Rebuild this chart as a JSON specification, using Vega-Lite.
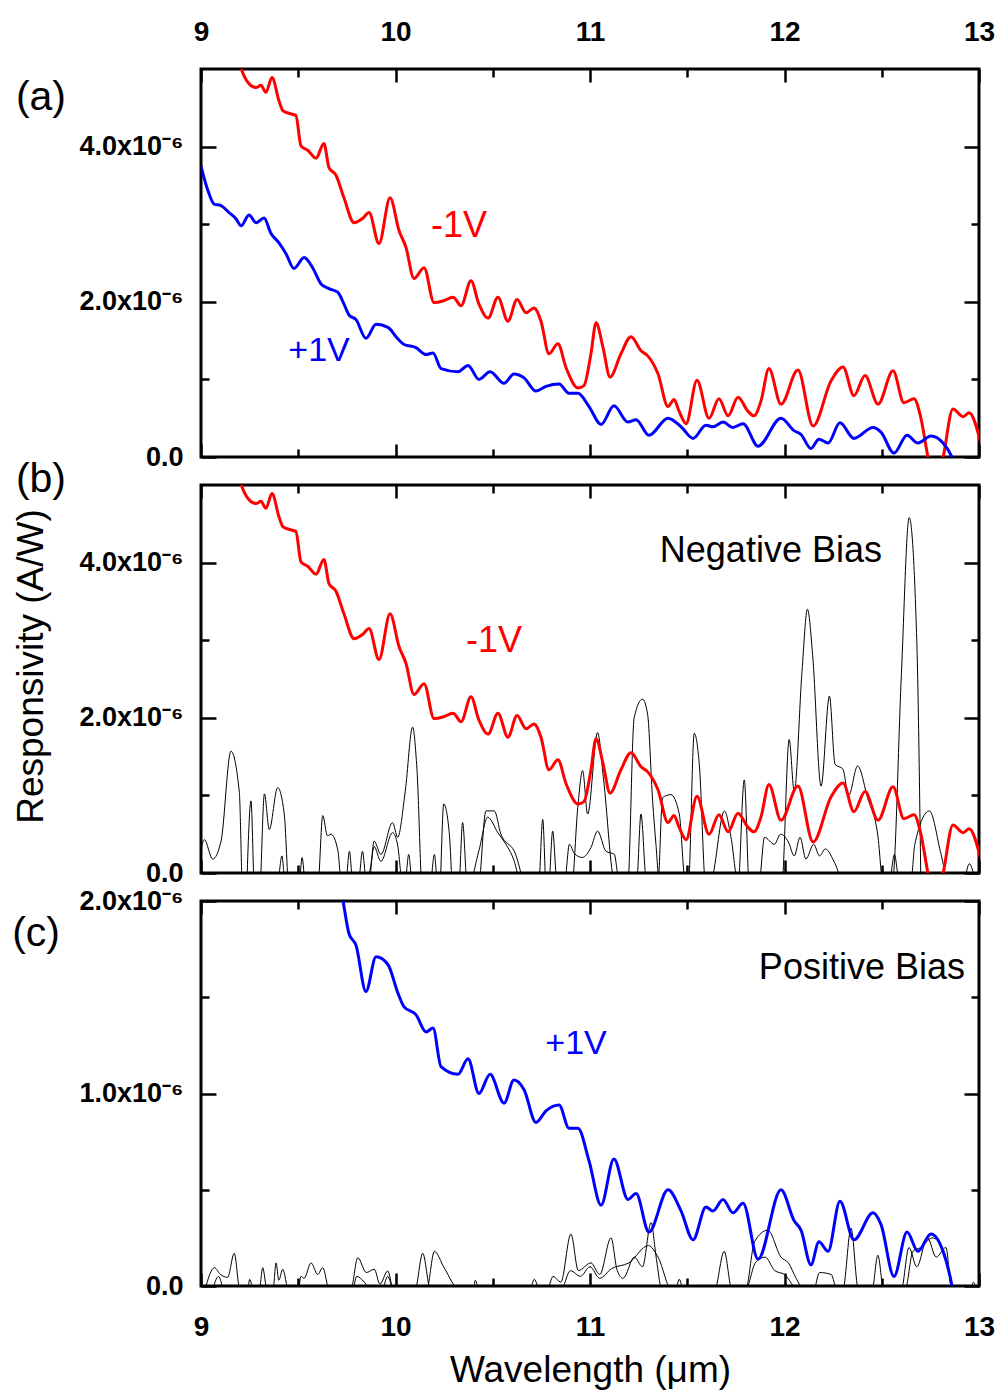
{
  "$schema": "https://vega.github.io/schema/vega-lite/v6.json",
  "background": "white",
  "padding": {"left": 10, "top": 11, "right": 5, "bottom": 5},
  "spacing": 28,
  "bounds": "flush",
  "datasets": {
    "red": [
      {"w":9.19,"r":5.15e-6},{"w":9.206,"r":5.01e-6},{"w":9.247,"r":4.81e-6},{"w":9.283,"r":4.76e-6},{"w":9.308,"r":4.79e-6},{"w":9.334,"r":4.70e-6},{"w":9.365,"r":4.89e-6},{"w":9.401,"r":4.59e-6},{"w":9.422,"r":4.46e-6},{"w":9.452,"r":4.43e-6},{"w":9.488,"r":4.40e-6},{"w":9.514,"r":4.01e-6},{"w":9.550,"r":3.95e-6},{"w":9.591,"r":3.85e-6},{"w":9.632,"r":4.04e-6},{"w":9.658,"r":3.73e-6},{"w":9.694,"r":3.63e-6},{"w":9.735,"r":3.34e-6},{"w":9.787,"r":3.02e-6},{"w":9.833,"r":3.08e-6},{"w":9.864,"r":3.15e-6},{"w":9.915,"r":2.75e-6},{"w":9.972,"r":3.34e-6},{"w":10.018,"r":2.92e-6},{"w":10.054,"r":2.70e-6},{"w":10.095,"r":2.30e-6},{"w":10.147,"r":2.44e-6},{"w":10.198,"r":1.99e-6},{"w":10.244,"r":2.01e-6},{"w":10.296,"r":2.06e-6},{"w":10.337,"r":1.95e-6},{"w":10.388,"r":2.27e-6},{"w":10.429,"r":1.97e-6},{"w":10.476,"r":1.79e-6},{"w":10.527,"r":2.06e-6},{"w":10.578,"r":1.75e-6},{"w":10.625,"r":2.03e-6},{"w":10.671,"r":1.86e-6},{"w":10.712,"r":1.92e-6},{"w":10.748,"r":1.75e-6},{"w":10.789,"r":1.33e-6},{"w":10.835,"r":1.46e-6},{"w":10.877,"r":1.15e-6},{"w":10.938,"r":0.89e-6},{"w":10.969,"r":0.92e-6},{"w":11.005,"r":1.33e-6},{"w":11.031,"r":1.73e-6},{"w":11.067,"r":1.41e-6},{"w":11.103,"r":1.03e-6},{"w":11.159,"r":1.33e-6},{"w":11.211,"r":1.55e-6},{"w":11.262,"r":1.37e-6},{"w":11.298,"r":1.30e-6},{"w":11.350,"r":1.07e-6},{"w":11.401,"r":0.65e-6},{"w":11.432,"r":0.74e-6},{"w":11.458,"r":0.59e-6},{"w":11.494,"r":0.43e-6},{"w":11.550,"r":0.99e-6},{"w":11.612,"r":0.50e-6},{"w":11.663,"r":0.75e-6},{"w":11.710,"r":0.53e-6},{"w":11.761,"r":0.77e-6},{"w":11.812,"r":0.59e-6},{"w":11.843,"r":0.53e-6},{"w":11.879,"r":0.72e-6},{"w":11.920,"r":1.14e-6},{"w":11.982,"r":0.68e-6},{"w":12.069,"r":1.12e-6},{"w":12.147,"r":0.40e-6},{"w":12.239,"r":0.98e-6},{"w":12.301,"r":1.16e-6},{"w":12.357,"r":0.79e-6},{"w":12.414,"r":1.05e-6},{"w":12.481,"r":0.68e-6},{"w":12.558,"r":1.11e-6},{"w":12.614,"r":0.70e-6},{"w":12.666,"r":0.75e-6},{"w":12.697,"r":0.55e-6},{"w":12.738,"r":-0.01e-6},{"w":12.77,"r":-0.4e-6},{"w":12.815,"r":-0.01e-6},{"w":12.866,"r":0.62e-6},{"w":12.918,"r":0.52e-6},{"w":12.949,"r":0.57e-6},{"w":13.01,"r":0.17e-6}
    ],
    "blue": [
      {"w":9.000,"r":3.75e-6},{"w":9.036,"r":3.43e-6},{"w":9.067,"r":3.26e-6},{"w":9.103,"r":3.24e-6},{"w":9.144,"r":3.15e-6},{"w":9.180,"r":3.07e-6},{"w":9.206,"r":2.98e-6},{"w":9.247,"r":3.12e-6},{"w":9.283,"r":3.02e-6},{"w":9.324,"r":3.08e-6},{"w":9.360,"r":2.88e-6},{"w":9.401,"r":2.76e-6},{"w":9.437,"r":2.62e-6},{"w":9.478,"r":2.43e-6},{"w":9.530,"r":2.57e-6},{"w":9.576,"r":2.43e-6},{"w":9.617,"r":2.23e-6},{"w":9.658,"r":2.17e-6},{"w":9.704,"r":2.12e-6},{"w":9.730,"r":2.00e-6},{"w":9.761,"r":1.83e-6},{"w":9.797,"r":1.77e-6},{"w":9.848,"r":1.53e-6},{"w":9.900,"r":1.71e-6},{"w":9.961,"r":1.67e-6},{"w":10.013,"r":1.52e-6},{"w":10.044,"r":1.45e-6},{"w":10.105,"r":1.41e-6},{"w":10.157,"r":1.32e-6},{"w":10.193,"r":1.34e-6},{"w":10.234,"r":1.14e-6},{"w":10.321,"r":1.10e-6},{"w":10.373,"r":1.18e-6},{"w":10.429,"r":1.00e-6},{"w":10.486,"r":1.10e-6},{"w":10.558,"r":0.95e-6},{"w":10.609,"r":1.07e-6},{"w":10.661,"r":1.02e-6},{"w":10.722,"r":0.85e-6},{"w":10.774,"r":0.91e-6},{"w":10.841,"r":0.94e-6},{"w":10.892,"r":0.82e-6},{"w":10.938,"r":0.82e-6},{"w":10.995,"r":0.65e-6},{"w":11.057,"r":0.42e-6},{"w":11.123,"r":0.66e-6},{"w":11.195,"r":0.45e-6},{"w":11.237,"r":0.48e-6},{"w":11.303,"r":0.28e-6},{"w":11.401,"r":0.50e-6},{"w":11.468,"r":0.39e-6},{"w":11.530,"r":0.24e-6},{"w":11.596,"r":0.41e-6},{"w":11.632,"r":0.39e-6},{"w":11.684,"r":0.45e-6},{"w":11.735,"r":0.38e-6},{"w":11.787,"r":0.43e-6},{"w":11.864,"r":0.14e-6},{"w":11.982,"r":0.50e-6},{"w":12.049,"r":0.34e-6},{"w":12.085,"r":0.29e-6},{"w":12.136,"r":0.11e-6},{"w":12.177,"r":0.23e-6},{"w":12.224,"r":0.18e-6},{"w":12.285,"r":0.44e-6},{"w":12.357,"r":0.24e-6},{"w":12.455,"r":0.38e-6},{"w":12.496,"r":0.32e-6},{"w":12.563,"r":0.05e-6},{"w":12.630,"r":0.28e-6},{"w":12.686,"r":0.18e-6},{"w":12.753,"r":0.27e-6},{"w":12.815,"r":0.18e-6},{"w":12.861,"r":0.0},{"w":12.88,"r":-0.12e-6}
    ],
    "noiseB": [
      {"s":"1","w":9.000,"r":0.30e-6},{"s":"1","w":9.017,"r":0.43e-6},{"s":"1","w":9.060,"r":0.18e-6},{"s":"1","w":9.103,"r":0.41e-6},{"s":"1","w":9.154,"r":1.57e-6},{"s":"1","w":9.197,"r":1.04e-6},{"s":"1","w":9.215,"r":-0.3e-6},
      {"s":"1","w":9.300,"r":-0.3e-6},{"s":"1","w":9.326,"r":1.02e-6},{"s":"1","w":9.351,"r":0.56e-6},{"s":"1","w":9.394,"r":1.10e-6},{"s":"1","w":9.428,"r":0.76e-6},{"s":"1","w":9.455,"r":-0.3e-6},
      {"s":"1","w":9.600,"r":-0.2e-6},{"s":"1","w":9.626,"r":0.74e-6},{"s":"1","w":9.650,"r":0.48e-6},{"s":"1","w":9.668,"r":0.50e-6},{"s":"1","w":9.703,"r":0.30e-6},{"s":"1","w":9.725,"r":-0.2e-6},
      {"s":"1","w":9.865,"r":-0.1e-6},{"s":"1","w":9.890,"r":0.41e-6},{"s":"1","w":9.925,"r":0.24e-6},{"s":"1","w":9.985,"r":0.65e-6},{"s":"1","w":10.011,"r":0.46e-6},{"s":"1","w":10.05,"r":1.05e-6},{"s":"1","w":10.088,"r":1.88e-6},{"s":"1","w":10.110,"r":1.35e-6},{"s":"1","w":10.140,"r":-0.3e-6},
      {"s":"1","w":10.225,"r":-0.3e-6},{"s":"1","w":10.248,"r":0.89e-6},{"s":"1","w":10.277,"r":0.50e-6},{"s":"1","w":10.295,"r":-0.2e-6},
      {"s":"1","w":10.425,"r":-0.2e-6},{"s":"1","w":10.465,"r":0.80e-6},{"s":"1","w":10.508,"r":0.80e-6},{"s":"1","w":10.542,"r":0.50e-6},{"s":"1","w":10.611,"r":0.28e-6},{"s":"1","w":10.680,"r":-0.2e-6},
      {"s":"1","w":10.905,"r":-0.2e-6},{"s":"1","w":10.937,"r":0.84e-6},{"s":"1","w":10.962,"r":1.32e-6},{"s":"1","w":10.988,"r":0.76e-6},{"s":"1","w":11.039,"r":1.81e-6},{"s":"1","w":11.07,"r":1.2e-6},{"s":"1","w":11.125,"r":-0.1e-6},
      {"s":"1","w":11.193,"r":-0.2e-6},{"s":"1","w":11.227,"r":2.0e-6},{"s":"1","w":11.270,"r":2.24e-6},{"s":"1","w":11.296,"r":2.05e-6},{"s":"1","w":11.322,"r":0.93e-6},{"s":"1","w":11.339,"r":0.37e-6},{"s":"1","w":11.36,"r":-0.2e-6},
      {"s":"1","w":11.505,"r":-0.2e-6},{"s":"1","w":11.536,"r":1.80e-6},{"s":"1","w":11.562,"r":1.40e-6},{"s":"1","w":11.596,"r":-0.2e-6},
      {"s":"1","w":11.76,"r":-0.2e-6},{"s":"1","w":11.793,"r":1.20e-6},{"s":"1","w":11.82,"r":-0.2e-6},
      {"s":"1","w":11.985,"r":-0.2e-6},{"s":"1","w":12.024,"r":1.72e-6},{"s":"1","w":12.05,"r":1.05e-6},{"s":"1","w":12.09,"r":2.6e-6},{"s":"1","w":12.118,"r":3.40e-6},{"s":"1","w":12.145,"r":2.8e-6},{"s":"1","w":12.188,"r":1.12e-6},{"s":"1","w":12.231,"r":2.28e-6},{"s":"1","w":12.26,"r":1.40e-6},{"s":"1","w":12.30,"r":1.34e-6},{"s":"1","w":12.33,"r":1.0e-6},{"s":"1","w":12.376,"r":1.38e-6},{"s":"1","w":12.427,"r":0.97e-6},{"s":"1","w":12.479,"r":0.50e-6},{"s":"1","w":12.51,"r":-0.2e-6},
      {"s":"1","w":12.556,"r":-0.1e-6},{"s":"1","w":12.60,"r":2.5e-6},{"s":"1","w":12.641,"r":4.58e-6},{"s":"1","w":12.68,"r":3.0e-6},{"s":"1","w":12.702,"r":-0.3e-6},
      {"s":"2","w":9.235,"r":-0.2e-6},{"s":"2","w":9.257,"r":0.93e-6},{"s":"2","w":9.275,"r":-0.2e-6},
      {"s":"2","w":9.395,"r":-0.1e-6},{"s":"2","w":9.416,"r":0.22e-6},{"s":"2","w":9.432,"r":-0.1e-6},
      {"s":"2","w":9.505,"r":-0.1e-6},{"s":"2","w":9.52,"r":0.20e-6},{"s":"2","w":9.535,"r":-0.1e-6},
      {"s":"2","w":9.745,"r":-0.1e-6},{"s":"2","w":9.763,"r":0.28e-6},{"s":"2","w":9.78,"r":-0.1e-6},
      {"s":"2","w":9.81,"r":-0.1e-6},{"s":"2","w":9.83,"r":0.28e-6},{"s":"2","w":9.85,"r":-0.1e-6},
      {"s":"2","w":9.87,"r":0.05e-6},{"s":"2","w":9.89,"r":0.34e-6},{"s":"2","w":9.925,"r":0.15e-6},{"s":"2","w":9.985,"r":0.52e-6},{"s":"2","w":10.011,"r":0.36e-6},{"s":"2","w":10.035,"r":-0.1e-6},
      {"s":"2","w":10.05,"r":-0.1e-6},{"s":"2","w":10.068,"r":0.24e-6},{"s":"2","w":10.085,"r":-0.1e-6},
      {"s":"2","w":10.18,"r":-0.1e-6},{"s":"2","w":10.2,"r":0.24e-6},{"s":"2","w":10.215,"r":-0.1e-6},
      {"s":"2","w":10.325,"r":-0.2e-6},{"s":"2","w":10.345,"r":0.65e-6},{"s":"2","w":10.37,"r":-0.2e-6},
      {"s":"2","w":10.43,"r":0.3e-6},{"s":"2","w":10.474,"r":0.72e-6},{"s":"2","w":10.526,"r":0.52e-6},{"s":"2","w":10.56,"r":0.40e-6},{"s":"2","w":10.611,"r":0.15e-6},{"s":"2","w":10.64,"r":-0.1e-6},
      {"s":"2","w":10.735,"r":-0.2e-6},{"s":"2","w":10.757,"r":0.69e-6},{"s":"2","w":10.775,"r":-0.2e-6},
      {"s":"2","w":10.79,"r":-0.1e-6},{"s":"2","w":10.808,"r":0.54e-6},{"s":"2","w":10.83,"r":-0.1e-6},
      {"s":"2","w":10.87,"r":-0.1e-6},{"s":"2","w":10.894,"r":0.37e-6},{"s":"2","w":10.92,"r":0.25e-6},{"s":"2","w":10.96,"r":0.2e-6},{"s":"2","w":11.005,"r":0.33e-6},{"s":"2","w":11.039,"r":0.54e-6},{"s":"2","w":11.082,"r":0.28e-6},{"s":"2","w":11.125,"r":0.24e-6},{"s":"2","w":11.15,"r":-0.1e-6},
      {"s":"2","w":11.24,"r":-0.1e-6},{"s":"2","w":11.262,"r":0.76e-6},{"s":"2","w":11.29,"r":-0.1e-6},
      {"s":"2","w":11.35,"r":-0.1e-6},{"s":"2","w":11.373,"r":0.97e-6},{"s":"2","w":11.416,"r":1.01e-6},{"s":"2","w":11.459,"r":0.76e-6},{"s":"2","w":11.49,"r":-0.1e-6},
      {"s":"2","w":11.62,"r":-0.1e-6},{"s":"2","w":11.691,"r":0.80e-6},{"s":"2","w":11.725,"r":0.46e-6},{"s":"2","w":11.76,"r":-0.1e-6},
      {"s":"2","w":11.87,"r":-0.1e-6},{"s":"2","w":11.897,"r":0.46e-6},{"s":"2","w":11.948,"r":0.37e-6},{"s":"2","w":11.98,"r":0.50e-6},{"s":"2","w":12.02,"r":0.40e-6},{"s":"2","w":12.05,"r":0.22e-6},{"s":"2","w":12.08,"r":0.46e-6},{"s":"2","w":12.11,"r":0.18e-6},{"s":"2","w":12.15,"r":0.37e-6},{"s":"2","w":12.18,"r":0.22e-6},{"s":"2","w":12.21,"r":0.31e-6},{"s":"2","w":12.26,"r":0.12e-6},{"s":"2","w":12.30,"r":-0.1e-6},
      {"s":"2","w":12.54,"r":-0.1e-6},{"s":"2","w":12.565,"r":0.24e-6},{"s":"2","w":12.59,"r":-0.1e-6},
      {"s":"2","w":12.65,"r":-0.1e-6},{"s":"2","w":12.67,"r":0.37e-6},{"s":"2","w":12.745,"r":0.80e-6},{"s":"2","w":12.805,"r":0.24e-6},{"s":"2","w":12.84,"r":-0.1e-6},
      {"s":"2","w":12.92,"r":-0.1e-6},{"s":"2","w":12.95,"r":0.12e-6},{"s":"2","w":12.98,"r":-0.1e-6}
    ],
    "noiseC": [
      {"s":"1","w":9.02,"r":-0.02e-6},{"s":"1","w":9.069,"r":0.095e-6},{"s":"1","w":9.10,"r":0.06e-6},{"s":"1","w":9.137,"r":0.045e-6},{"s":"1","w":9.171,"r":0.17e-6},{"s":"1","w":9.20,"r":-0.02e-6},
      {"s":"1","w":9.24,"r":-0.02e-6},{"s":"1","w":9.25,"r":0.035e-6},{"s":"1","w":9.27,"r":-0.02e-6},
      {"s":"1","w":9.30,"r":-0.02e-6},{"s":"1","w":9.317,"r":0.095e-6},{"s":"1","w":9.34,"r":-0.02e-6},
      {"s":"1","w":9.37,"r":-0.02e-6},{"s":"1","w":9.386,"r":0.12e-6},{"s":"1","w":9.40,"r":0.03e-6},{"s":"1","w":9.42,"r":0.087e-6},{"s":"1","w":9.45,"r":-0.02e-6},
      {"s":"1","w":9.50,"r":-0.02e-6},{"s":"1","w":9.514,"r":0.05e-6},{"s":"1","w":9.53,"r":0.04e-6},{"s":"1","w":9.566,"r":0.12e-6},{"s":"1","w":9.60,"r":0.06e-6},{"s":"1","w":9.626,"r":0.095e-6},{"s":"1","w":9.66,"r":-0.02e-6},
      {"s":"1","w":9.77,"r":-0.02e-6},{"s":"1","w":9.806,"r":0.147e-6},{"s":"1","w":9.85,"r":0.07e-6},{"s":"1","w":9.891,"r":0.087e-6},{"s":"1","w":9.92,"r":0.01e-6},{"s":"1","w":9.96,"r":0.078e-6},{"s":"1","w":9.99,"r":-0.02e-6},
      {"s":"1","w":10.16,"r":-0.02e-6},{"s":"1","w":10.20,"r":0.18e-6},{"s":"1","w":10.25,"r":0.095e-6},{"s":"1","w":10.33,"r":-0.02e-6},
      {"s":"1","w":10.40,"r":-0.02e-6},{"s":"1","w":10.41,"r":0.03e-6},{"s":"1","w":10.43,"r":-0.02e-6},
      {"s":"1","w":10.69,"r":-0.02e-6},{"s":"1","w":10.714,"r":0.035e-6},{"s":"1","w":10.74,"r":-0.02e-6},
      {"s":"1","w":10.78,"r":-0.02e-6},{"s":"1","w":10.81,"r":0.05e-6},{"s":"1","w":10.85,"r":0.02e-6},{"s":"1","w":10.902,"r":0.27e-6},{"s":"1","w":10.94,"r":0.08e-6},{"s":"1","w":11.005,"r":0.12e-6},{"s":"1","w":11.05,"r":0.06e-6},{"s":"1","w":11.108,"r":0.25e-6},{"s":"1","w":11.14,"r":0.08e-6},{"s":"1","w":11.17,"r":0.04e-6},{"s":"1","w":11.228,"r":0.15e-6},{"s":"1","w":11.27,"r":0.1e-6},{"s":"1","w":11.314,"r":0.33e-6},{"s":"1","w":11.34,"r":0.15e-6},{"s":"1","w":11.37,"r":-0.02e-6},
      {"s":"1","w":11.44,"r":-0.02e-6},{"s":"1","w":11.459,"r":0.035e-6},{"s":"1","w":11.48,"r":-0.02e-6},
      {"s":"1","w":11.64,"r":-0.02e-6},{"s":"1","w":11.69,"r":0.18e-6},{"s":"1","w":11.73,"r":-0.02e-6},
      {"s":"1","w":11.80,"r":-0.02e-6},{"s":"1","w":11.846,"r":0.23e-6},{"s":"1","w":11.914,"r":0.29e-6},{"s":"1","w":11.982,"r":0.15e-6},{"s":"1","w":12.02,"r":0.12e-6},{"s":"1","w":12.06,"r":0.04e-6},{"s":"1","w":12.1,"r":-0.02e-6},
      {"s":"1","w":12.30,"r":-0.02e-6},{"s":"1","w":12.342,"r":0.30e-6},{"s":"1","w":12.38,"r":-0.02e-6},
      {"s":"1","w":12.45,"r":-0.02e-6},{"s":"1","w":12.48,"r":0.16e-6},{"s":"1","w":12.51,"r":-0.02e-6},
      {"s":"1","w":12.60,"r":-0.02e-6},{"s":"1","w":12.64,"r":0.20e-6},{"s":"1","w":12.68,"r":0.10e-6},{"s":"1","w":12.735,"r":0.25e-6},{"s":"1","w":12.78,"r":0.15e-6},{"s":"1","w":12.83,"r":0.20e-6},{"s":"1","w":12.86,"r":-0.02e-6},
      {"s":"1","w":12.96,"r":-0.02e-6},{"s":"1","w":12.97,"r":0.02e-6},{"s":"1","w":12.99,"r":-0.02e-6},
      {"s":"2","w":9.06,"r":-0.02e-6},{"s":"2","w":9.09,"r":0.05e-6},{"s":"2","w":9.12,"r":-0.02e-6},
      {"s":"2","w":9.78,"r":-0.02e-6},{"s":"2","w":9.80,"r":0.05e-6},{"s":"2","w":9.84,"r":0.02e-6},{"s":"2","w":9.87,"r":-0.02e-6},
      {"s":"2","w":9.93,"r":-0.02e-6},{"s":"2","w":9.96,"r":0.05e-6},{"s":"2","w":9.99,"r":-0.02e-6},
      {"s":"2","w":10.10,"r":-0.02e-6},{"s":"2","w":10.14,"r":0.17e-6},{"s":"2","w":10.18,"r":-0.02e-6},
      {"s":"2","w":10.85,"r":-0.02e-6},{"s":"2","w":10.90,"r":0.08e-6},{"s":"2","w":10.95,"r":0.05e-6},{"s":"2","w":11.0,"r":0.10e-6},{"s":"2","w":11.05,"r":0.04e-6},{"s":"2","w":11.11,"r":0.09e-6},{"s":"2","w":11.2,"r":0.12e-6},{"s":"2","w":11.30,"r":0.21e-6},{"s":"2","w":11.35,"r":0.15e-6},{"s":"2","w":11.42,"r":-0.02e-6},
      {"s":"2","w":11.80,"r":-0.02e-6},{"s":"2","w":11.85,"r":0.12e-6},{"s":"2","w":11.9,"r":0.15e-6},{"s":"2","w":11.95,"r":0.08e-6},{"s":"2","w":12.0,"r":0.06e-6},{"s":"2","w":12.07,"r":-0.02e-6},
      {"s":"2","w":12.15,"r":-0.02e-6},{"s":"2","w":12.18,"r":0.07e-6},{"s":"2","w":12.24,"r":0.06e-6},{"s":"2","w":12.27,"r":-0.02e-6},
      {"s":"2","w":12.62,"r":-0.02e-6},{"s":"2","w":12.66,"r":0.18e-6},{"s":"2","w":12.7,"r":0.20e-6},{"s":"2","w":12.76,"r":0.25e-6},{"s":"2","w":12.82,"r":0.18e-6},{"s":"2","w":12.86,"r":-0.02e-6}
    ]
  },
  "vconcat": [
    {
      "width": 778, "height": 388,
      "resolve": {"axis": {"x": "independent", "y": "independent"}},
      "layer": [
        {
          "data": {"name": "red"},
          "mark": {"type": "line", "opacity": 0},
          "encoding": {
            "x": {"field": "w", "type": "quantitative", "scale": {"domain": [9, 13], "nice": false, "zero": false},
              "axis": {"orient": "bottom", "values": [9, 9.5, 10, 10.5, 11, 11.5, 12, 12.5, 13], "labels": false, "title": null,
                "tickSize": {"condition": {"test": "datum.value % 1 === 0", "value": -13}, "value": -8}}},
            "y": {"field": "r", "type": "quantitative", "scale": {"domain": [0, 5e-6], "nice": false, "zero": false},
              "axis": {"orient": "left", "values": [0, 1e-6, 2e-6, 3e-6, 4e-6], "title": null, "labelFontSize": 27, "labelPadding": 33,
                "labelExpr": "round(datum.value*1e6) % 2 === 0 ? (datum.value === 0 ? '0.0' : format(datum.value*1e6, '.1f') + 'x10⁻⁶') : ''",
                "tickSize": {"condition": {"test": "round(datum.value*1e6) % 2 === 0", "value": -15}, "value": -8}}}
          }
        },
        {
          "data": {"name": "red"},
          "mark": {"type": "line", "opacity": 0},
          "encoding": {
            "x": {"field": "w", "type": "quantitative", "scale": {"domain": [9, 13], "nice": false, "zero": false},
              "axis": {"orient": "top", "values": [9, 9.5, 10, 10.5, 11, 11.5, 12, 12.5, 13], "title": null, "labelFontSize": 28, "labelPadding": 36,
                "labelExpr": "datum.value % 1 === 0 ? format(datum.value, 'd') : ''",
                "tickSize": {"condition": {"test": "datum.value % 1 === 0", "value": -13}, "value": -8}}},
            "y": {"field": "r", "type": "quantitative", "scale": {"domain": [0, 5e-6], "nice": false, "zero": false},
              "axis": {"orient": "right", "values": [0, 1e-6, 2e-6, 3e-6, 4e-6], "title": null, "labels": false,
                "tickSize": {"condition": {"test": "round(datum.value*1e6) % 2 === 0", "value": -15}, "value": -8}}}
          }
        },
        {
          "data": {"name": "red"},
          "mark": {"type": "line", "color": "#ff0000", "strokeWidth": 3, "clip": true, "interpolate": "monotone"},
          "encoding": {
            "x": {"field": "w", "type": "quantitative", "axis": null},
            "y": {"field": "r", "type": "quantitative", "axis": null}
          }
        },
        {
          "data": {"name": "blue"},
          "mark": {"type": "line", "color": "#0000ff", "strokeWidth": 3, "clip": true, "interpolate": "monotone"},
          "encoding": {
            "x": {"field": "w", "type": "quantitative", "axis": null},
            "y": {"field": "r", "type": "quantitative", "axis": null}
          }
        },
        {
          "data": {"values": [{"w": 10.327, "r": 2.98e-6, "t": "-1V"}]},
          "mark": {"type": "text", "color": "#ff0000", "fontSize": 36, "font": "Liberation Sans"},
          "encoding": {"x": {"field": "w", "type": "quantitative", "axis": null}, "y": {"field": "r", "type": "quantitative", "axis": null}, "text": {"field": "t"}}
        },
        {
          "data": {"values": [{"w": 9.607, "r": 1.37e-6, "t": "+1V"}]},
          "mark": {"type": "text", "color": "#0000ff", "fontSize": 34, "font": "Liberation Sans"},
          "encoding": {"x": {"field": "w", "type": "quantitative", "axis": null}, "y": {"field": "r", "type": "quantitative", "axis": null}, "text": {"field": "t"}}
        },
        {
          "data": {"values": [{"w": 8.177, "r": 4.62e-6, "t": "(a)"}]},
          "mark": {"type": "text", "color": "black", "fontSize": 41, "font": "Liberation Sans"},
          "encoding": {"x": {"field": "w", "type": "quantitative", "axis": null}, "y": {"field": "r", "type": "quantitative", "axis": null}, "text": {"field": "t"}}
        }
      ]
    },
    {
      "width": 778, "height": 388,
      "resolve": {"axis": {"x": "independent", "y": "independent"}},
      "layer": [
        {
          "data": {"name": "red"},
          "mark": {"type": "line", "opacity": 0},
          "encoding": {
            "x": {"field": "w", "type": "quantitative", "scale": {"domain": [9, 13], "nice": false, "zero": false},
              "axis": {"orient": "bottom", "values": [9, 9.5, 10, 10.5, 11, 11.5, 12, 12.5, 13], "labels": false, "title": null,
                "tickSize": {"condition": {"test": "datum.value % 1 === 0", "value": -13}, "value": -8}}},
            "y": {"field": "r", "type": "quantitative", "scale": {"domain": [0, 5e-6], "nice": false, "zero": false},
              "axis": {"orient": "left", "values": [0, 1e-6, 2e-6, 3e-6, 4e-6], "title": "Responsivity (A/W)", "titleFontSize": 37, "titlePadding": 28, "titleY": 181, "labelFontSize": 27, "labelPadding": 33,
                "labelExpr": "round(datum.value*1e6) % 2 === 0 ? (datum.value === 0 ? '0.0' : format(datum.value*1e6, '.1f') + 'x10⁻⁶') : ''",
                "tickSize": {"condition": {"test": "round(datum.value*1e6) % 2 === 0", "value": -15}, "value": -8}}}
          }
        },
        {
          "data": {"name": "red"},
          "mark": {"type": "line", "opacity": 0},
          "encoding": {
            "x": {"field": "w", "type": "quantitative", "scale": {"domain": [9, 13], "nice": false, "zero": false},
              "axis": {"orient": "top", "values": [9, 9.5, 10, 10.5, 11, 11.5, 12, 12.5, 13], "title": null, "labels": false,
                "tickSize": {"condition": {"test": "datum.value % 1 === 0", "value": -13}, "value": -8}}},
            "y": {"field": "r", "type": "quantitative", "scale": {"domain": [0, 5e-6], "nice": false, "zero": false},
              "axis": {"orient": "right", "values": [0, 1e-6, 2e-6, 3e-6, 4e-6], "title": null, "labels": false,
                "tickSize": {"condition": {"test": "round(datum.value*1e6) % 2 === 0", "value": -15}, "value": -8}}}
          }
        },
        {
          "data": {"name": "noiseB"},
          "mark": {"type": "line", "color": "#000000", "strokeWidth": 1, "clip": true, "interpolate": "monotone"},
          "encoding": {
            "x": {"field": "w", "type": "quantitative", "axis": null},
            "y": {"field": "r", "type": "quantitative", "axis": null},
            "detail": {"field": "s"}
          }
        },
        {
          "data": {"name": "red"},
          "mark": {"type": "line", "color": "#ff0000", "strokeWidth": 3, "clip": true, "interpolate": "monotone"},
          "encoding": {
            "x": {"field": "w", "type": "quantitative", "axis": null},
            "y": {"field": "r", "type": "quantitative", "axis": null}
          }
        },
        {
          "data": {"values": [{"w": 10.506, "r": 2.99e-6, "t": "-1V"}]},
          "mark": {"type": "text", "color": "#ff0000", "fontSize": 36, "font": "Liberation Sans"},
          "encoding": {"x": {"field": "w", "type": "quantitative", "axis": null}, "y": {"field": "r", "type": "quantitative", "axis": null}, "text": {"field": "t"}}
        },
        {
          "data": {"values": [{"w": 11.93, "r": 4.15e-6, "t": "Negative Bias"}]},
          "mark": {"type": "text", "color": "black", "fontSize": 36, "font": "Liberation Sans"},
          "encoding": {"x": {"field": "w", "type": "quantitative", "axis": null}, "y": {"field": "r", "type": "quantitative", "axis": null}, "text": {"field": "t"}}
        },
        {
          "data": {"values": [{"w": 8.177, "r": 5.06e-6, "t": "(b)"}]},
          "mark": {"type": "text", "color": "black", "fontSize": 41, "font": "Liberation Sans"},
          "encoding": {"x": {"field": "w", "type": "quantitative", "axis": null}, "y": {"field": "r", "type": "quantitative", "axis": null}, "text": {"field": "t"}}
        }
      ]
    },
    {
      "width": 778, "height": 385,
      "resolve": {"axis": {"x": "independent", "y": "independent"}},
      "layer": [
        {
          "data": {"name": "blue"},
          "mark": {"type": "line", "opacity": 0},
          "encoding": {
            "x": {"field": "w", "type": "quantitative", "scale": {"domain": [9, 13], "nice": false, "zero": false},
              "axis": {"orient": "bottom", "values": [9, 9.5, 10, 10.5, 11, 11.5, 12, 12.5, 13], "title": "Wavelength (μm)", "titleFontSize": 37, "titlePadding": 6, "labelFontSize": 28, "labelPadding": 40,
                "labelExpr": "datum.value % 1 === 0 ? format(datum.value, 'd') : ''",
                "tickSize": {"condition": {"test": "datum.value % 1 === 0", "value": -13}, "value": -8}}},
            "y": {"field": "r", "type": "quantitative", "scale": {"domain": [0, 2e-6], "nice": false, "zero": false},
              "axis": {"orient": "left", "values": [0, 0.5e-6, 1e-6, 1.5e-6, 2e-6], "title": null, "labelFontSize": 27, "labelPadding": 33,
                "labelExpr": "round(datum.value*2e6) % 2 === 0 ? (datum.value === 0 ? '0.0' : format(datum.value*1e6, '.1f') + 'x10⁻⁶') : ''",
                "tickSize": {"condition": {"test": "round(datum.value*2e6) % 2 === 0", "value": -15}, "value": -8}}}
          }
        },
        {
          "data": {"name": "blue"},
          "mark": {"type": "line", "opacity": 0},
          "encoding": {
            "x": {"field": "w", "type": "quantitative", "scale": {"domain": [9, 13], "nice": false, "zero": false},
              "axis": {"orient": "top", "values": [9, 9.5, 10, 10.5, 11, 11.5, 12, 12.5, 13], "title": null, "labels": false,
                "tickSize": {"condition": {"test": "datum.value % 1 === 0", "value": -13}, "value": -8}}},
            "y": {"field": "r", "type": "quantitative", "scale": {"domain": [0, 2e-6], "nice": false, "zero": false},
              "axis": {"orient": "right", "values": [0, 0.5e-6, 1e-6, 1.5e-6, 2e-6], "title": null, "labels": false,
                "tickSize": {"condition": {"test": "round(datum.value*2e6) % 2 === 0", "value": -15}, "value": -8}}}
          }
        },
        {
          "data": {"name": "noiseC"},
          "mark": {"type": "line", "color": "#000000", "strokeWidth": 1, "clip": true, "interpolate": "monotone"},
          "encoding": {
            "x": {"field": "w", "type": "quantitative", "axis": null},
            "y": {"field": "r", "type": "quantitative", "axis": null},
            "detail": {"field": "s"}
          }
        },
        {
          "data": {"name": "blue"},
          "mark": {"type": "line", "color": "#0000ff", "strokeWidth": 3, "clip": true, "interpolate": "monotone"},
          "encoding": {
            "x": {"field": "w", "type": "quantitative", "axis": null},
            "y": {"field": "r", "type": "quantitative", "axis": null}
          }
        },
        {
          "data": {"values": [{"w": 10.928, "r": 1.257e-6, "t": "+1V"}]},
          "mark": {"type": "text", "color": "#0000ff", "fontSize": 34, "font": "Liberation Sans"},
          "encoding": {"x": {"field": "w", "type": "quantitative", "axis": null}, "y": {"field": "r", "type": "quantitative", "axis": null}, "text": {"field": "t"}}
        },
        {
          "data": {"values": [{"w": 12.398, "r": 1.65e-6, "t": "Positive Bias"}]},
          "mark": {"type": "text", "color": "black", "fontSize": 36, "font": "Liberation Sans"},
          "encoding": {"x": {"field": "w", "type": "quantitative", "axis": null}, "y": {"field": "r", "type": "quantitative", "axis": null}, "text": {"field": "t"}}
        },
        {
          "data": {"values": [{"w": 8.152, "r": 1.83e-6, "t": "(c)"}]},
          "mark": {"type": "text", "color": "black", "fontSize": 41, "font": "Liberation Sans"},
          "encoding": {"x": {"field": "w", "type": "quantitative", "axis": null}, "y": {"field": "r", "type": "quantitative", "axis": null}, "text": {"field": "t"}}
        }
      ]
    }
  ],
  "config": {
    "view": {"stroke": "black", "strokeWidth": 3},
    "axis": {"domain": false, "grid": false, "tickColor": "black", "tickWidth": 2.5, "labelFont": "Liberation Sans", "labelFontWeight": "bold", "labelColor": "black", "titleFont": "Liberation Sans", "titleFontWeight": "normal", "titleColor": "black", "labelFlush": false, "labelOverlap": false, "labelBound": false}
  }
}
